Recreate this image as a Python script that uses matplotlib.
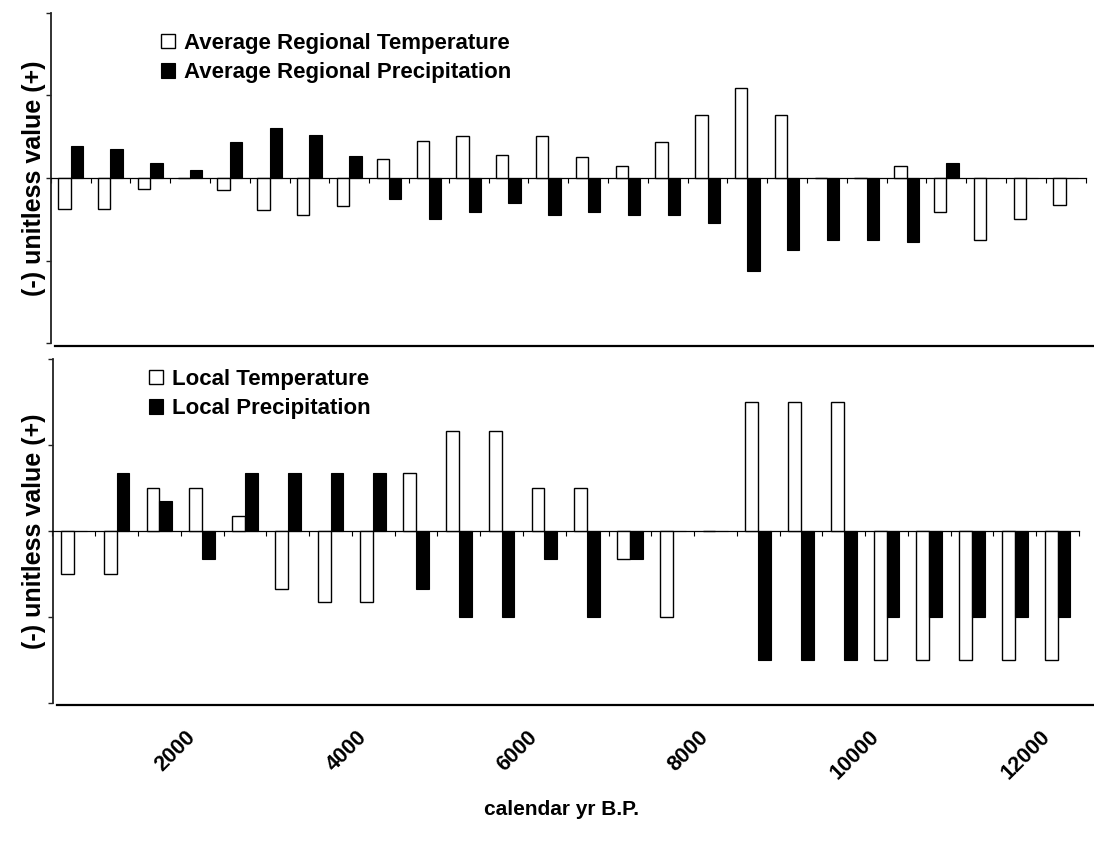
import numpy as np
import matplotlib
matplotlib.use("Agg")
import matplotlib.pyplot as plt
from matplotlib.lines import Line2D
from matplotlib.transforms import offset_copy

plt.rcParams["font.family"] = ["Liberation Sans", "DejaVu Sans"]
plt.rcParams["font.weight"] = "bold"

# top panel: regional averages
regional_years = [500, 1000, 1500, 2000, 2500, 3000, 3500, 4000, 4500, 5000,
                  5500, 6000, 6500, 7000, 7500, 8000, 8500, 9000, 9500, 10000,
                  10500, 11000, 11500, 12000, 12500, 13000]
regional_temp = [-0.37, -0.37, -0.13, 0, -0.15, -0.39, -0.45, -0.34, 0.23, 0.45,
                 0.51, 0.28, 0.51, 0.26, 0.15, 0.44, 0.76, 1.09, 0.76, 0,
                 0, 0.14, -0.41, -0.75, -0.50, -0.33]
regional_precip = [0.39, 0.35, 0.18, 0.10, 0.43, 0.60, 0.52, 0.27, -0.25, -0.50,
                   -0.41, -0.30, -0.45, -0.41, -0.45, -0.45, -0.55, -1.12, -0.87, -0.75,
                   -0.75, -0.78, 0.18, 0, 0, 0]

# bottom panel: local record
local_years = [500, 1000, 1500, 2000, 2500, 3000, 3500, 4000, 4500, 5000,
               5500, 6000, 6500, 7000, 7500, 8000, 8500, 9000, 9500, 10000,
               10500, 11000, 11500, 12000]
local_temp = [-0.5, -0.5, 0.5, 0.5, 0.17, -0.67, -0.83, -0.83, 0.67, 1.17,
              1.17, 0.5, 0.5, -0.33, -1.0, 0, 1.5, 1.5, 1.5, -1.5,
              -1.5, -1.5, -1.5, -1.5]
local_precip = [0, 0.67, 0.35, -0.33, 0.67, 0.67, 0.67, 0.67, -0.67, -1.0,
                -1.0, -0.33, -1.0, -0.33, 0, 0, -1.5, -1.5, -1.5, -1.0,
                -1.0, -1.0, -1.0, -1.0]

label_years = [2000, 4000, 6000, 8000, 10000, 12000]

W, H = 1094, 846
fig = plt.figure(figsize=(W / 100, H / 100), dpi=100)


def px_rect(x0, y0, x1, y1):
    return [x0 / W, 1 - y1 / H, (x1 - x0) / W, (y1 - y0) / H]


def panel(rect, years, temp, precip, names, bw, leg_xy):
    ax = fig.add_axes(rect)
    x = np.arange(len(years))
    b1 = ax.bar(x - bw / 2, temp, bw, color="white", edgecolor="black", linewidth=1.0, zorder=3)
    b2 = ax.bar(x + bw / 2, precip, bw, color="black", edgecolor="black", linewidth=0.8, zorder=3)
    ax.set_xlim(-0.5, len(years) - 0.5)
    ax.set_ylim(-2, 2)
    ax.set_yticks([-2, -1, 0, 1, 2])
    ax.set_yticklabels([])
    ax.set_xticks(np.arange(len(years) + 1) - 0.5)
    ax.set_xticklabels([])
    ax.spines["top"].set_visible(False)
    ax.spines["right"].set_visible(False)
    ax.spines["bottom"].set_position(("data", 0))
    ax.spines["bottom"].set_linewidth(0.9)
    ax.spines["left"].set_linewidth(1.3)
    ax.spines["left"].set_color("#222222")
    ax.tick_params(axis="x", direction="out", length=3.6, width=0.8)
    ax.tick_params(axis="y", direction="out", length=3.6, width=1.0, color="#222222")
    ax.legend([b1, b2], names, loc="upper left",
              bbox_to_anchor=(leg_xy[0] / W, 1 - leg_xy[1] / H),
              bbox_transform=fig.transFigure, frameon=False, fontsize=16,
              handlelength=0.62, handleheight=0.62, handletextpad=0.4,
              labelspacing=0.38, borderpad=0, borderaxespad=0)
    return ax


ax1 = panel(px_rect(50.7, 12.7, 1085.7, 343.3), regional_years, regional_temp, regional_precip,
            ["Average Regional Temperature", "Average Regional Precipitation"], 0.31, (161, 33))
ax2 = panel(px_rect(52.5, 359.3, 1079, 702.7), local_years, local_temp, local_precip,
            ["Local Temperature", "Local Precipitation"], 0.30, (149, 369))

lab_tr = offset_copy(ax2.get_xaxis_transform(), fig=fig, x=-10, y=6, units="dots")
for yr in label_years:
    i = local_years.index(yr)
    ax2.text(i, -0.109, str(yr), transform=lab_tr, rotation=45,
             rotation_mode="anchor", ha="right", va="center", fontsize=15.5)

for yc in (178, 531.5):
    fig.text(34 / W, 1 - yc / H, "(-) unitless value (+)", rotation=90,
             ha="center", va="center", fontsize=18)

fig.add_artist(Line2D([55 / W, 1], [1 - 346 / H] * 2, transform=fig.transFigure,
                      color="black", lw=1.6))
fig.add_artist(Line2D([57 / W, 1], [1 - 705 / H] * 2, transform=fig.transFigure,
                      color="black", lw=1.6))

fig.text(562 / W, 1 - 809 / H, "calendar yr B.P.", ha="center", va="center", fontsize=15)

fig.savefig("out.png", dpi=100)
